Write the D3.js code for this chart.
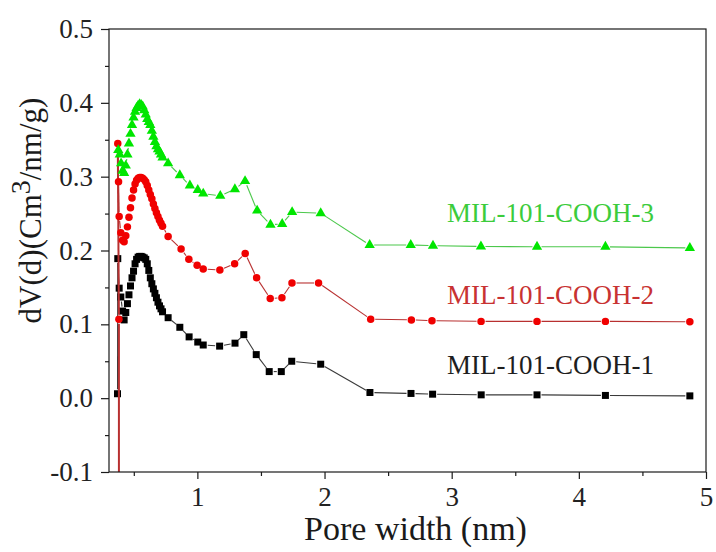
<!DOCTYPE html>
<html>
<head>
<meta charset="utf-8">
<script src="https://cdn.jsdelivr.net/npm/d3@7"></script>
<style>
  html, body { margin: 0; padding: 0; background: #fff; }
  svg { display: block; }
  text { font-family: "Liberation Serif", "DejaVu Serif", serif; }
</style>
</head>
<body>
<svg id="chart" width="716" height="552"></svg>
<script>
// Pore size distribution (DFT) of three MIL-101-COOH samples

const widthCOOH1 = [0.372, 0.374, 0.385, 0.398, 0.412, 0.424, 0.437, 0.450, 0.462, 0.474, 0.486, 0.498, 0.510, 0.522, 0.534, 0.546, 0.558, 0.570, 0.582, 0.594, 0.606, 0.618, 0.630, 0.642, 0.654, 0.666, 0.678, 0.690, 0.702, 0.714, 0.726, 0.770, 0.862, 0.935, 1.003, 1.046, 1.175, 1.296, 1.365, 1.463, 1.565, 1.660, 1.742, 1.970, 2.357, 2.680, 2.850, 3.232, 3.671, 4.209, 4.873];
const dvCOOH1 = [0.006, 0.189, 0.149, 0.137, 0.118, 0.106, 0.116, 0.128, 0.140, 0.152, 0.163, 0.172, 0.182, 0.188, 0.191, 0.192, 0.192, 0.191, 0.190, 0.188, 0.182, 0.173, 0.163, 0.155, 0.148, 0.142, 0.136, 0.130, 0.125, 0.121, 0.117, 0.109, 0.096, 0.083, 0.076, 0.072, 0.0705, 0.0745, 0.086, 0.059, 0.036, 0.036, 0.050, 0.046, 0.0077, 0.0064, 0.0054, 0.0045, 0.0045, 0.0037, 0.0031];

const widthCOOH2 = [0.383, 0.383, 0.374, 0.380, 0.385, 0.398, 0.412, 0.424, 0.437, 0.450, 0.462, 0.474, 0.486, 0.498, 0.510, 0.522, 0.534, 0.546, 0.558, 0.570, 0.582, 0.594, 0.606, 0.618, 0.630, 0.642, 0.654, 0.666, 0.678, 0.690, 0.702, 0.714, 0.726, 0.770, 0.872, 0.933, 0.998, 1.046, 1.177, 1.293, 1.376, 1.466, 1.573, 1.665, 1.744, 1.953, 2.363, 2.683, 2.845, 3.231, 3.671, 4.209, 4.873];
const dvCOOH2 = [-0.45, 0.107, 0.345, 0.293, 0.246, 0.224, 0.214, 0.212, 0.220, 0.232, 0.245, 0.258, 0.271, 0.282, 0.290, 0.295, 0.298, 0.299, 0.299, 0.298, 0.296, 0.293, 0.288, 0.282, 0.276, 0.270, 0.263, 0.257, 0.251, 0.246, 0.241, 0.237, 0.233, 0.219, 0.202, 0.188, 0.180, 0.175, 0.1736, 0.182, 0.196, 0.163, 0.135, 0.136, 0.156, 0.156, 0.107, 0.106, 0.105, 0.104, 0.104, 0.104, 0.1035];

const widthCOOH3 = [0.378, 0.390, 0.400, 0.412, 0.424, 0.437, 0.450, 0.462, 0.474, 0.486, 0.498, 0.510, 0.522, 0.534, 0.546, 0.558, 0.570, 0.582, 0.594, 0.606, 0.618, 0.630, 0.642, 0.654, 0.666, 0.678, 0.690, 0.702, 0.714, 0.726, 0.770, 0.862, 0.941, 1.003, 1.046, 1.180, 1.295, 1.375, 1.470, 1.575, 1.667, 1.745, 1.970, 2.355, 2.678, 2.853, 3.230, 3.671, 4.209, 4.873];
const dvCOOH3 = [0.336, 0.330, 0.318, 0.308, 0.305, 0.315, 0.330, 0.345, 0.358, 0.370, 0.380, 0.388, 0.393, 0.396, 0.398, 0.397, 0.395, 0.390, 0.384, 0.378, 0.374, 0.370, 0.362, 0.354, 0.347, 0.341, 0.337, 0.334, 0.330, 0.326, 0.318, 0.302, 0.288, 0.282, 0.277, 0.274, 0.283, 0.294, 0.254, 0.235, 0.236, 0.252, 0.2505, 0.2075, 0.2075, 0.2065, 0.2055, 0.205, 0.205, 0.2035];

const seriesNames = ["MIL-101-COOH-1", "MIL-101-COOH-2", "MIL-101-COOH-3"];
const xTickValues = [1, 2, 3, 4, 5];
const xMinorValues = [0.5, 1.5, 2.5, 3.5, 4.5];
const yTickValues = [-0.1, 0.0, 0.1, 0.2, 0.3, 0.4, 0.5];
const yTickLabels = ["-0.1", "0.0", "0.1", "0.2", "0.3", "0.4", "0.5"];
const yMinorValues = [-0.05, 0.05, 0.15, 0.25, 0.35, 0.45];

const FONT = "Liberation Serif, DejaVu Serif, serif";
const plot = { left: 109, right: 706, top: 29, bottom: 472 };

const svg = d3.select("#chart");

const x = d3.scaleLinear().domain([0.305, 5]).range([plot.left, plot.right]);
const y = d3.scaleLinear().domain([-0.1, 0.5]).range([plot.bottom, plot.top]);

svg.append("defs").append("clipPath").attr("id", "plot-clip")
  .append("rect")
  .attr("x", plot.left).attr("y", plot.top)
  .attr("width", plot.right - plot.left).attr("height", plot.bottom - plot.top);

// Series styling
const series = [
  { name: seriesNames[0], xs: widthCOOH1, ys: dvCOOH1, marker: d3.symbolSquare, size: 49,
    fill: "#000000", line: "#3a3a3a", label: "#1e1e1e", labelY: 0.033 },
  { name: seriesNames[1], xs: widthCOOH2, ys: dvCOOH2, marker: d3.symbolCircle, size: 44,
    fill: "#f00000", line: "#b83030", label: "#c83232", labelY: 0.128 },
  { name: seriesNames[2], xs: widthCOOH3, ys: dvCOOH3, marker: d3.symbolTriangle, size: 46,
    fill: "#00e600", line: "#4cc84c", label: "#3ccc3c", labelY: 0.238 }
];

const gap = 4.5; // space left between a connecting line and its symbols

const dataLayer = svg.append("g").attr("clip-path", "url(#plot-clip)");

series.forEach(s => {
  const pts = s.xs.map((v, i) => [x(v), y(s.ys[i])]);
  const g = dataLayer.append("g");
  // connecting segments, trimmed near each symbol
  const segs = [];
  for (let i = 0; i < pts.length - 1; i++) {
    const [x0, y0] = pts[i], [x1, y1] = pts[i + 1];
    const len = Math.hypot(x1 - x0, y1 - y0);
    if (len <= 2 * gap + 1) continue;
    const ux = (x1 - x0) / len, uy = (y1 - y0) / len;
    segs.push({ p: [x0 + ux * gap, y0 + uy * gap, x1 - ux * gap, y1 - uy * gap], long: len > 150 });
  }
  g.selectAll("line").data(segs).join("line")
    .attr("x1", d => d.p[0]).attr("y1", d => d.p[1])
    .attr("x2", d => d.p[2]).attr("y2", d => d.p[3])
    .attr("stroke", s.line).attr("stroke-width", d => d.long ? 2 : 1.1);
  const sym = d3.symbol().type(s.marker).size(s.size);
  g.selectAll("path").data(pts).join("path")
    .attr("d", sym)
    .attr("transform", d => `translate(${d[0]},${d[1]})`)
    .attr("fill", s.fill);
});

// Frame
svg.append("rect")
  .attr("x", plot.left).attr("y", plot.top)
  .attr("width", plot.right - plot.left).attr("height", plot.bottom - plot.top)
  .attr("fill", "none").attr("stroke", "#1a1a1a").attr("stroke-width", 1.2);

// Axes
const axisColor = "#1a1a1a";
function styleAxis(g) {
  g.attr("font-family", FONT);
  g.select(".domain").remove();
  g.selectAll(".tick line").attr("stroke", axisColor).attr("stroke-width", 1.2);
  g.selectAll(".tick text").attr("fill", "#222").attr("font-family", FONT);
}

const xAxis = svg.append("g").attr("transform", `translate(0,${plot.bottom})`)
  .call(d3.axisBottom(x).tickValues(xTickValues).tickSize(7).tickPadding(8).tickFormat(d3.format("d")));
styleAxis(xAxis);
xAxis.selectAll(".tick text").attr("font-size", 27);

const xMinor = svg.append("g").attr("transform", `translate(0,${plot.bottom})`)
  .call(d3.axisBottom(x).tickValues(xMinorValues).tickSize(4).tickFormat(""));
styleAxis(xMinor);

const yAxis = svg.append("g").attr("transform", `translate(${plot.left},0)`)
  .call(d3.axisLeft(y).tickValues(yTickValues).tickSize(8).tickPadding(8)
    .tickFormat((d, i) => yTickLabels[i]));
styleAxis(yAxis);
yAxis.selectAll(".tick text").attr("font-size", 27);

const yMinor = svg.append("g").attr("transform", `translate(${plot.left},0)`)
  .call(d3.axisLeft(y).tickValues(yMinorValues).tickSize(4).tickFormat(""));
styleAxis(yMinor);

// Axis titles
svg.append("text")
  .attr("x", (plot.left + plot.right) / 2 + 8).attr("y", 540)
  .attr("text-anchor", "middle")
  .attr("font-family", FONT).attr("font-size", 34).attr("fill", "#1a1a1a")
  .text("Pore width (nm)");

const yTitle = svg.append("text")
  .attr("transform", `translate(41,${(plot.top + plot.bottom) / 2 - 40}) rotate(-90)`)
  .attr("text-anchor", "middle")
  .attr("font-family", FONT).attr("font-size", 31).attr("fill", "#1a1a1a");
yTitle.append("tspan").text("dV(d)(Cm");
yTitle.append("tspan").attr("dy", -11).attr("font-size", 28).text("3");
yTitle.append("tspan").attr("dy", 11).text("/nm/g)");

// Series labels
svg.append("g").selectAll("text").data(series).join("text")
  .attr("x", 447).attr("y", d => y(d.labelY))
  .attr("font-family", FONT).attr("font-size", 27)
  .attr("fill", d => d.label)
  .text(d => d.name);
</script>
</body>
</html>
